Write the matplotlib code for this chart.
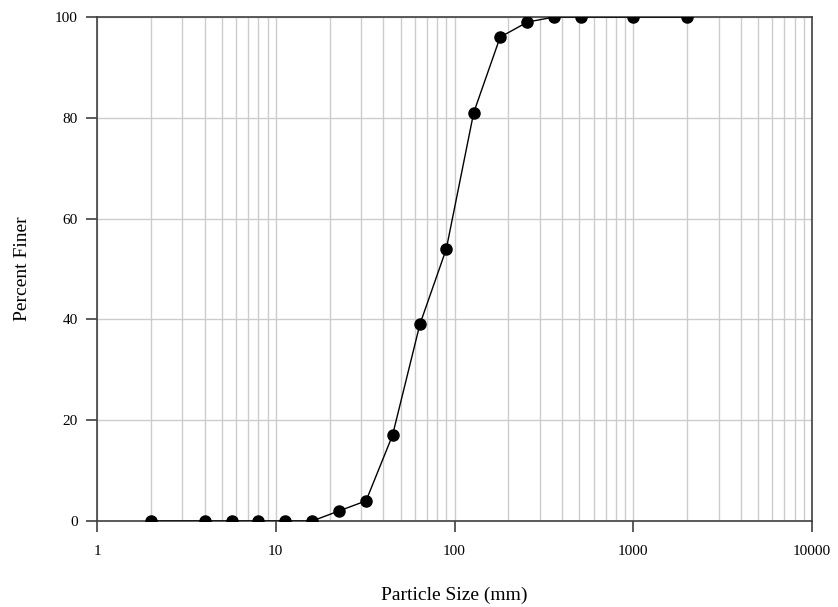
import matplotlib
matplotlib.use("Agg")
import matplotlib.pyplot as plt
from matplotlib.ticker import LogLocator, FixedLocator, NullFormatter

# Sieve sizes (mm) and percent finer
sizes = [2, 4, 5.66, 8, 11.3, 16, 22.6, 32, 45, 64, 90, 128, 180, 256, 362, 512, 1000, 2000]
percent_finer = [0, 0, 0, 0, 0, 0, 2, 4, 17, 39, 54, 81, 96, 99, 100, 100, 100, 100]

x_ticks = [1, 10, 100, 1000, 10000]
x_tick_labels = ["1", "10", "100", "1000", "10000"]
y_ticks = [0, 20, 40, 60, 80, 100]

plt.rcParams['font.family'] = ['Liberation Serif', 'DejaVu Serif']

fig = plt.figure(figsize=(8.38, 6.07), dpi=100)
ax = fig.add_axes([97 / 838, 1 - 521 / 607, (812 - 97) / 838, (521 - 17) / 607])

ax.set_xscale('log')
ax.set_xlim(1, 10000)
ax.set_ylim(0, 100)

# grid: all decade + minor vertical lines, horizontal at major y
ax.xaxis.set_major_locator(FixedLocator(x_ticks))
ax.xaxis.set_minor_locator(LogLocator(base=10, subs=range(2, 10)))
ax.xaxis.set_minor_formatter(NullFormatter())
ax.set_xticks(x_ticks)
ax.set_xticklabels(x_tick_labels)
ax.set_yticks(y_ticks)
ax.grid(True, which='both', axis='x', color='#cccccc', linewidth=1)
ax.grid(True, which='major', axis='y', color='#cccccc', linewidth=1)
ax.set_axisbelow(True)

ax.plot(sizes, percent_finer, color='black', linewidth=1, marker='o',
        markersize=8, markerfacecolor='black', markeredgecolor='black', zorder=3)

for s in ax.spines.values():
    s.set_color('#404040')
    s.set_linewidth(1.2)

ax.tick_params(axis='both', which='major', direction='out', length=8, width=1.2,
               color='#404040', labelsize=11)
ax.tick_params(axis='x', which='major', pad=9)
ax.tick_params(axis='y', which='major', pad=6)
ax.tick_params(axis='x', which='minor', length=0)

ax.set_xlabel('Particle Size (mm)', fontsize=14, labelpad=21)
ax.set_ylabel('Percent Finer', fontsize=14, labelpad=17)

fig.savefig('out.png', dpi=100)
